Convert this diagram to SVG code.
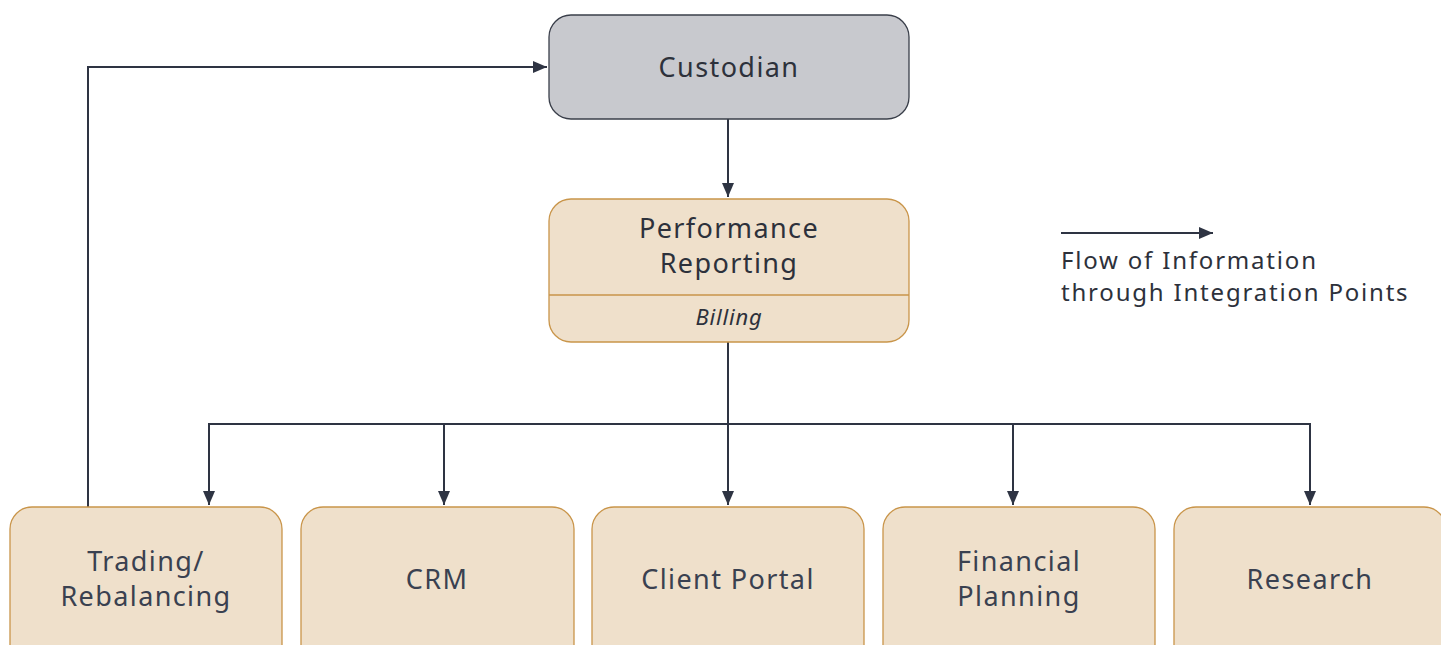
<svg xmlns="http://www.w3.org/2000/svg" width="1441" height="645" viewBox="0 0 1441 645">
<style>
.box{fill:#efe0cb;stroke:#c9954a;stroke-width:1.3}
.cust{fill:#c8c9ce;stroke:#3a3f4a;stroke-width:1.3}
.t{font-family:"Noto Sans","Liberation Sans",sans-serif;font-size:27px;letter-spacing:1.4px;fill:#2d313b;text-anchor:middle}
.tb{fill:#3a4150}
.it{font-style:italic;font-size:22px;letter-spacing:0.8px}
.lg{font-family:"Noto Sans","Liberation Sans",sans-serif;font-size:24px;letter-spacing:1.8px;fill:#2d313b}
.ln{fill:none;stroke:#2e3443;stroke-width:2}
</style>
<defs>
<marker id="ah" viewBox="0 0 14 12" refX="14" refY="6" markerWidth="14" markerHeight="12" markerUnits="userSpaceOnUse" orient="auto">
<path d="M0,0 L14,6 L0,12 Z" fill="#2e3443"/>
</marker>
</defs>
<g id="connectors">
<path class="ln" d="M728,119 V197" marker-end="url(#ah)"/>
<path class="ln" d="M728,342 V505" marker-end="url(#ah)"/>
<path class="ln" d="M209,505 V424 H1310 V505" marker-end="url(#ah)"/>
<path class="ln" d="M209,424 V505" marker-end="url(#ah)"/>
<path class="ln" d="M444,424 V505" marker-end="url(#ah)"/>
<path class="ln" d="M1013,424 V505" marker-end="url(#ah)"/>
<path class="ln" d="M88,507 V67 H547" marker-end="url(#ah)"/>
</g>
<g id="custodian">
<rect class="cust" x="549" y="15" width="360" height="104" rx="22"/>
<text class="t" x="729" y="77">Custodian</text>
</g>
<g id="performance">
<rect class="box" x="549" y="199" width="360" height="143" rx="22"/>
<line x1="549" y1="295" x2="909" y2="295" stroke="#c9954a" stroke-width="1.3"/>
<text class="t" x="729" y="238">Performance</text>
<text class="t" x="729" y="273">Reporting</text>
<text class="t it" x="729" y="325">Billing</text>
</g>
<g id="trading">
<rect class="box" x="10" y="507" width="272" height="170" rx="22"/>
<text class="t tb" x="146" y="571">Trading/</text>
<text class="t tb" x="146" y="606">Rebalancing</text>
</g>
<g id="crm">
<rect class="box" x="301" y="507" width="273" height="170" rx="22"/>
<text class="t tb" x="437" y="589">CRM</text>
</g>
<g id="portal">
<rect class="box" x="592" y="507" width="272" height="170" rx="22"/>
<text class="t tb" x="728" y="589">Client Portal</text>
</g>
<g id="planning">
<rect class="box" x="883" y="507" width="272" height="170" rx="22"/>
<text class="t tb" x="1019" y="571">Financial</text>
<text class="t tb" x="1019" y="606">Planning</text>
</g>
<g id="research">
<rect class="box" x="1174" y="507" width="272" height="170" rx="22"/>
<text class="t tb" x="1310" y="589">Research</text>
</g>
<g id="legend">
<path class="ln" d="M1061,233 H1213" marker-end="url(#ah)"/>
<text class="lg" x="1061" y="269">Flow of Information</text>
<text class="lg" x="1061" y="301">through Integration Points</text>
</g>
</svg>
